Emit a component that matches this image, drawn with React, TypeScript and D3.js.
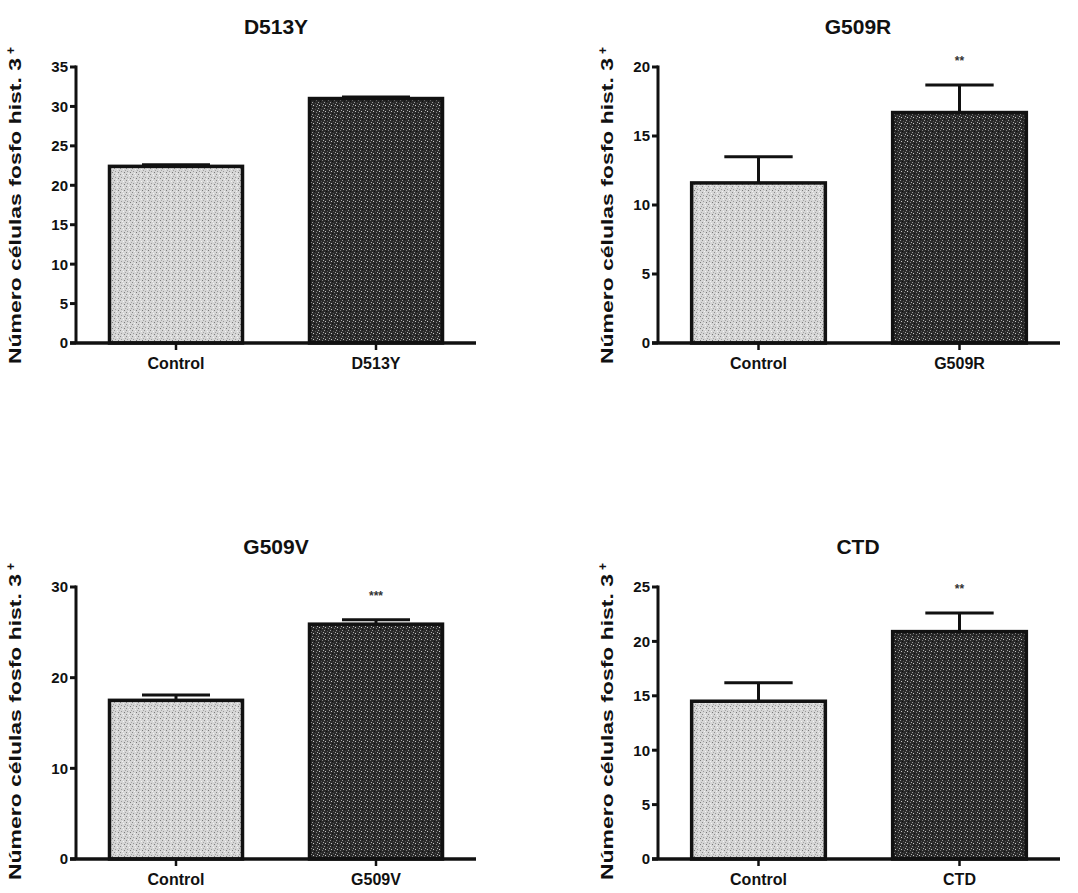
import React from "react";
import * as d3 from "d3";

const panelTitles = ["D513Y", "G509R", "G509V", "CTD"];
const categories = [
  ["Control", "D513Y"],
  ["Control", "G509R"],
  ["Control", "G509V"],
  ["Control", "CTD"],
];
const controlMeans = [22.4, 11.6, 17.5, 14.5];
const controlErrors = [0.2, 1.9, 0.6, 1.7];
const mutantMeans = [31.0, 16.7, 25.9, 20.9];
const mutantErrors = [0.2, 2.0, 0.5, 1.7];
const yMaxes = [35, 20, 30, 25];
const yTickSteps = [5, 5, 10, 5];
const significance = ["", "**", "***", "**"];
const yAxisLabel = "Número células fosfo hist. 3";

const W = 1078;
const H = 893;
const FONT = "'Liberation Sans', Arial, Helvetica, sans-serif";

// panel layout: axis x, top y, bottom y, x-axis length, y-label baseline x
const layouts = [
  { ax: 76, top: 67, bottom: 343, len: 400, lx: 21 },
  { ax: 658, top: 67, bottom: 343, len: 402, lx: 613 },
  { ax: 76, top: 587, bottom: 859, len: 400, lx: 21 },
  { ax: 658, top: 587, bottom: 859, len: 402, lx: 613 },
];

function Panel({ i }: { i: number }) {
  const L = layouts[i];
  const y = d3.scaleLinear().domain([0, yMaxes[i]]).range([L.bottom, L.top]);
  const x = d3
    .scaleBand<string>()
    .domain(categories[i])
    .range([L.ax, L.ax + L.len])
    .paddingInner(0.32)
    .paddingOuter(0.16);
  const ticks = d3.range(0, yMaxes[i] + 0.001, yTickSteps[i]);
  const means = [controlMeans[i], mutantMeans[i]];
  const errs = [controlErrors[i], mutantErrors[i]];
  const fills = ["url(#lightTex)", "url(#darkTex)"];
  const bw = x.bandwidth();
  const labelStart = L.bottom + 21;
  const labelLen = 306;
  return (
    <g>
      <text
        x={L.ax + 200}
        y={L.top - 33}
        textAnchor="middle"
        fontFamily={FONT}
        fontWeight="bold"
        fontSize={21}
        fill="#111"
      >
        {panelTitles[i]}
      </text>
      {/* bars */}
      {categories[i].map((c, k) => {
        const x0 = x(c)!;
        const top = y(means[k]);
        const eTop = y(means[k] + errs[k]);
        const cx = x0 + bw / 2;
        return (
          <g key={c}>
            <line x1={cx} x2={cx} y1={top} y2={eTop} stroke="#111" strokeWidth={3} />
            <line x1={cx - bw / 4} x2={cx + bw / 4} y1={eTop} y2={eTop} stroke="#111" strokeWidth={3} />
            <rect
              x={x0 + 1.5}
              y={top}
              width={bw - 3}
              height={L.bottom - top}
              fill={fills[k]}
              stroke="#111"
              strokeWidth={3.5}
            />
            {k === 1 && significance[i] && (
              <text
                x={cx}
                y={eTop - 20}
                textAnchor="middle"
                fontFamily={FONT}
                fontWeight="bold"
                fontSize={12}
                fill="#333"
              >
                {significance[i]}
              </text>
            )}
            <line x1={cx} x2={cx} y1={L.bottom} y2={L.bottom + 7} stroke="#111" strokeWidth={2.5} />
            <text
              x={cx}
              y={L.bottom + 26}
              textAnchor="middle"
              fontFamily={FONT}
              fontWeight="bold"
              fontSize={16}
              fill="#111"
            >
              {c}
            </text>
          </g>
        );
      })}
      {/* y axis */}
      <line x1={L.ax} x2={L.ax} y1={L.top - 1.5} y2={L.bottom} stroke="#111" strokeWidth={3} />
      {ticks.map((t) => (
        <g key={t}>
          <line x1={L.ax - 6} x2={L.ax} y1={y(t)} y2={y(t)} stroke="#111" strokeWidth={3} />
          <text
            x={L.ax - 8}
            y={y(t)}
            dy="0.36em"
            textAnchor="end"
            fontFamily={FONT}
            fontWeight="bold"
            fontSize={15}
            fill="#111"
          >
            {t}
          </text>
        </g>
      ))}
      {/* x axis */}
      <line x1={L.ax - 6} x2={L.ax + L.len} y1={L.bottom} y2={L.bottom} stroke="#111" strokeWidth={3.5} />
      {/* y label */}
      <g transform={`translate(${L.lx},${labelStart}) rotate(-90)`}>
        <text
          x={0}
          y={0}
          textAnchor="start"
          fontFamily={FONT}
          fontWeight="bold"
          fontSize={17}
          textLength={labelLen}
          lengthAdjust="spacingAndGlyphs"
          fill="#111"
        >
          {yAxisLabel}
        </text>
        <text
          x={labelLen + 4}
          y={-6}
          textAnchor="start"
          fontFamily={FONT}
          fontWeight="bold"
          fontSize={12}
          fill="#111"
        >
          +
        </text>
      </g>
    </g>
  );
}

export default function App() {
  return (
    <svg width={W} height={H} style={{ display: "block", position: "absolute", left: 0, top: 0, background: "#fff" }}>
      <defs>
        <pattern id="lightTex" width="6" height="6" patternUnits="userSpaceOnUse">
          <rect width="6" height="6" fill="#d6d6d6" />
          <rect x="0" y="0" width="1" height="1" fill="#8a8a8a" />
          <rect x="3" y="1" width="1" height="1" fill="#f4f4f4" />
          <rect x="1" y="3" width="1" height="1" fill="#9a9a9a" />
          <rect x="4" y="4" width="1" height="1" fill="#7a7a7a" />
          <rect x="2" y="5" width="1" height="1" fill="#f0f0f0" />
          <rect x="5" y="2" width="1" height="1" fill="#a5a5a5" />
        </pattern>
        <pattern id="darkTex" width="6" height="6" patternUnits="userSpaceOnUse">
          <rect width="6" height="6" fill="#2a2a2a" />
          <rect x="0" y="0" width="1" height="1" fill="#9a9a9a" />
          <rect x="3" y="1" width="1" height="1" fill="#555" />
          <rect x="1" y="3" width="1" height="1" fill="#c8c8c8" />
          <rect x="4" y="4" width="1" height="1" fill="#808080" />
          <rect x="2" y="5" width="1" height="1" fill="#111" />
          <rect x="5" y="2" width="1" height="1" fill="#b0b0b0" />
        </pattern>
      </defs>
      {panelTitles.map((_, i) => (
        <Panel key={i} i={i} />
      ))}
    </svg>
  );
}
